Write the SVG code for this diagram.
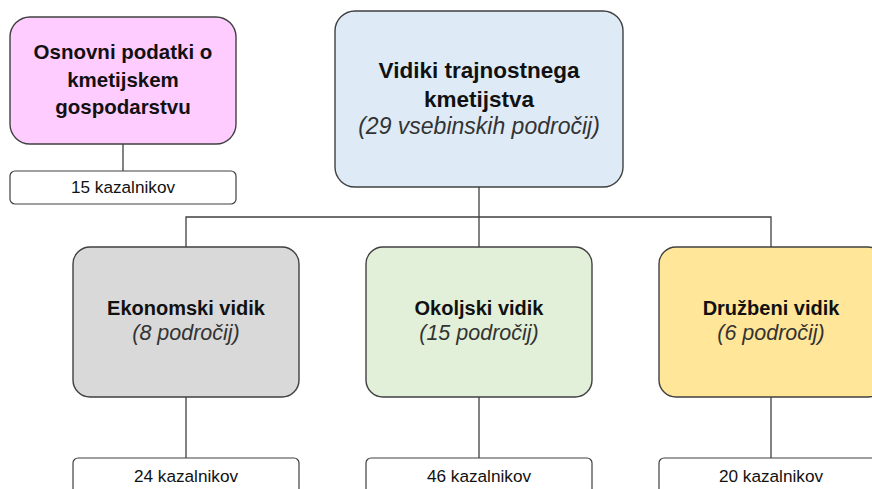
<svg xmlns="http://www.w3.org/2000/svg" width="872" height="489" viewBox="0 0 872 489">
<style>
.box{stroke:#404040;stroke-width:1.4}
.small{fill:#ffffff;stroke:#404040;stroke-width:1.2}
.conn{stroke:#404040;stroke-width:1.3;fill:none}
text{font-family:"Liberation Sans",Arial,sans-serif;fill:#111111;text-anchor:middle}
.b{font-weight:bold}
.i{font-style:italic;fill:#333333}
.k{font-size:17.2px}
</style>
<rect width="872" height="489" fill="#ffffff"/>
<g id="connectors">
<path class="conn" d="M123 144V171"/>
<path class="conn" d="M479 187V217M186 247V217H771V247M479 217V247"/>
<path class="conn" d="M186 397V458M479 397V458M771 397V458"/>
</g>
<g id="osnovni">
<rect class="box" x="10" y="17" width="226" height="127" rx="20" fill="#FFCCFF"/>
<text class="b" x="123" y="59" font-size="20.5">Osnovni podatki o</text>
<text class="b" x="123" y="87" font-size="20.5">kmetijskem</text>
<text class="b" x="123" y="114" font-size="20.5">gospodarstvu</text>
</g>
<g id="osnovni-kaz">
<rect class="small" x="10" y="171" width="226" height="33" rx="5"/>
<text class="k" x="123" y="193">15 kazalnikov</text>
</g>
<g id="vidiki">
<rect class="box" x="335" y="11" width="288" height="176" rx="20" fill="#DEEBF7"/>
<text class="b" x="479" y="78" font-size="22.5">Vidiki trajnostnega</text>
<text class="b" x="479" y="107" font-size="22.5">kmetijstva</text>
<text class="i" x="479" y="134" font-size="23">(29 vsebinskih področij)</text>
</g>
<g id="ekonomski">
<rect class="box" x="73" y="247" width="226" height="150" rx="17" fill="#D9D9D9"/>
<text class="b" x="186" y="315" font-size="20">Ekonomski vidik</text>
<text class="i" x="186" y="340" font-size="21.5">(8 področij)</text>
</g>
<g id="okoljski">
<rect class="box" x="366" y="247" width="226" height="150" rx="17" fill="#E2F0D9"/>
<text class="b" x="479" y="315" font-size="20">Okoljski vidik</text>
<text class="i" x="479" y="340" font-size="21.5">(15 področij)</text>
</g>
<g id="druzbeni">
<rect class="box" x="659" y="247" width="226" height="150" rx="17" fill="#FFE699"/>
<text class="b" x="771" y="315" font-size="20">Družbeni vidik</text>
<text class="i" x="771" y="340" font-size="21.5">(6 področij)</text>
</g>
<g id="ekonomski-kaz">
<rect class="small" x="73" y="458" width="226" height="40" rx="5"/>
<text class="k" x="186" y="482">24 kazalnikov</text>
</g>
<g id="okoljski-kaz">
<rect class="small" x="366" y="458" width="226" height="40" rx="5"/>
<text class="k" x="479" y="482">46 kazalnikov</text>
</g>
<g id="druzbeni-kaz">
<rect class="small" x="659" y="458" width="226" height="40" rx="5"/>
<text class="k" x="771" y="482">20 kazalnikov</text>
</g>
</svg>
